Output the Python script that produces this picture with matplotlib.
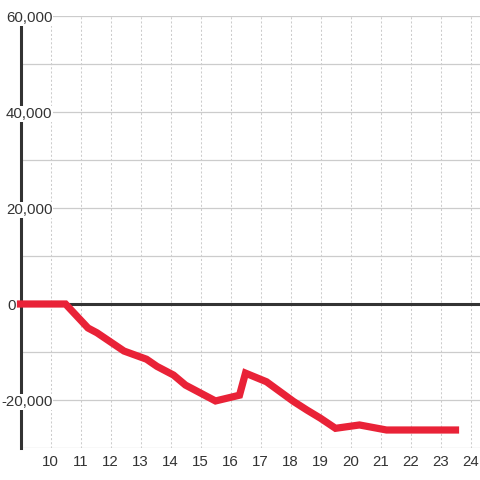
import matplotlib
import matplotlib.pyplot as plt
from matplotlib.ticker import MultipleLocator

matplotlib.use("Agg")

hours = [9, 10.5, 11.25, 11.55, 12.45, 13.2, 13.55, 14.1, 14.5, 15.5,
         16.3, 16.5, 17.2, 18.1, 18.55, 19.0, 19.5, 20.3, 21.2, 23.5]
values = [0, 0, -5000, -6000, -9800, -11500, -13000, -14800, -16900, -20200,
          -19000, -14400, -16200, -20300, -22100, -23800, -25900, -25200, -26250, -26250]
x_ticks = list(range(10, 25))
y_labels = [-20000, 0, 20000, 40000, 60000]

TEXT = "#333333"
GRID = "#cccccc"
RED = "#e92237"
FS = 10.8

plt.rcParams["font.family"] = ["Liberation Sans", "DejaVu Sans"]

fig = plt.figure(figsize=(4.8, 4.8), dpi=100)
ax = fig.add_axes([20.5 / 480, 32 / 480, 1 - 20.5 / 480, 432 / 480])
ax.set_xlim(9, 9 + 459.5 / 30)
ax.set_ylim(-30000, 60000)

for side in ["top", "right", "bottom"]:
    ax.spines[side].set_visible(False)
ax.spines["left"].set_color(TEXT)
ax.spines["left"].set_linewidth(2.2)

ax.set_xticks(x_ticks)
ax.set_yticks(y_labels)
ax.yaxis.set_minor_locator(MultipleLocator(10000))
ax.set_yticklabels([])
ax.tick_params(axis="both", which="both", length=0, labelsize=FS, labelcolor=TEXT)
ax.tick_params(axis="x", pad=5)

# y labels sit over the spine with a white backing, except 0 which sits left of it
ytrans = ax.get_yaxis_transform()
for v in y_labels:
    if v == 0:
        ax.annotate("0", xy=(0, v), xycoords=ytrans, xytext=(-3.2, -1.2),
                    textcoords="offset points", ha="right", va="center",
                    fontsize=FS, color=TEXT, annotation_clip=False)
    else:
        ax.annotate(f"{v:,}", xy=(0, v), xycoords=ytrans, xytext=(22.9, -1.2),
                    textcoords="offset points", ha="right", va="center",
                    fontsize=FS, color=TEXT, zorder=6, annotation_clip=False,
                    bbox=dict(facecolor="white", edgecolor="none", pad=0.8))

ax.grid(True, axis="y", which="both", color=GRID, linewidth=0.9, zorder=0)
ax.grid(True, axis="x", which="major", color=GRID, linewidth=0.75, linestyle=(0, (2, 2)), zorder=0)
ax.set_axisbelow(True)

ax.axhline(0, color=TEXT, linewidth=2.2, zorder=2)
ax.plot(hours, values, color=RED, linewidth=5.2, solid_capstyle="projecting",
        solid_joinstyle="miter", zorder=3, clip_on=False)

fig.savefig("out.png", dpi=100, facecolor="white")
